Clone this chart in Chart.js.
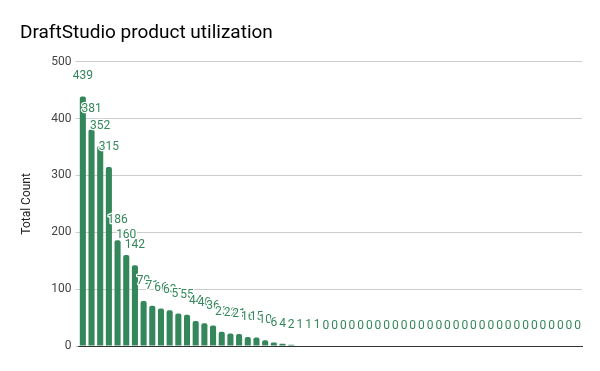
<!DOCTYPE html>
<html>
<head>
<meta charset="utf-8">
<script src="https://cdn.jsdelivr.net/npm/chart.js@4"></script>
<style>
  html, body { margin: 0; padding: 0; background: #fff; }
  #wrap { width: 600px; height: 371px; }
</style>
</head>
<body>
<div id="wrap"><canvas id="usageChart" width="600" height="371"></canvas></div>
<script>
// data
var counts = [439, 381, 352, 315, 186, 160, 142, 79, 71, 66, 63, 57, 55, 44, 40, 36,
              25, 22, 21, 16, 15, 10, 6, 4, 2, 1, 1, 1,
              0, 0, 0, 0, 0, 0, 0, 0, 0, 0, 0, 0, 0, 0, 0, 0, 0, 0, 0, 0, 0, 0,
              0, 0, 0, 0, 0, 0, 0, 0];
var categories = counts.map(function (v, i) { return 'Item ' + (i + 1); });
var yTicks = [0, 100, 200, 300, 400, 500];

var green = '#33875a';

// value labels above the bars, with a white halo
var barLabels = {
  id: 'barLabels',
  afterDatasetsDraw: function (chart) {
    var ctx = chart.ctx;
    var meta = chart.getDatasetMeta(0);
    ctx.save();
    ctx.font = '12px Roboto';
    ctx.textAlign = 'center';
    ctx.textBaseline = 'middle';
    ctx.lineJoin = 'round';
    meta.data.forEach(function (bar, i) {
      var txt = String(counts[i]);
      ctx.strokeStyle = '#fff';
      ctx.lineWidth = 2.5;
      ctx.strokeText(txt, bar.x, bar.y - 20);
      ctx.fillStyle = green;
      ctx.fillText(txt, bar.x, bar.y - 20);
    });
    ctx.restore();
  }
};

var ctx = document.getElementById('usageChart').getContext('2d');
var usageChart = new Chart(ctx, {
  type: 'bar',
  data: {
    labels: categories,
    datasets: [{
      label: 'Total Count',
      data: counts,
      backgroundColor: green,
      borderRadius: { topLeft: 2, topRight: 2 },
      borderSkipped: 'bottom',
      categoryPercentage: 1,
      barPercentage: 0.7
    }]
  },
  options: {
    responsive: false,
    animation: false,
    layout: { padding: { left: 20, right: 18, top: 0, bottom: 17 } },
    plugins: {
      legend: { display: false },
      tooltip: { enabled: false },
      title: {
        display: true,
        text: 'DraftStudio product utilization',
        align: 'start',
        color: '#000',
        font: { family: 'Roboto', size: 19, weight: 'normal' },
        padding: { top: 22, bottom: 17 }
      }
    },
    scales: {
      x: {
        grid: { display: false },
        border: { display: true, color: '#333', width: 1 },
        ticks: { display: false }
      },
      y: {
        min: 0,
        max: 500,
        afterBuildTicks: function (scale) {
          scale.ticks = yTicks.map(function (v) { return { value: v }; });
        },
        afterFit: function (scale) { scale.width = 58.5; },
        grid: { color: '#cccccc', tickLength: 3, drawTicks: true },
        border: { display: false },
        ticks: {
          color: '#444',
          padding: 4,
          font: { family: 'Roboto', size: 12 }
        },
        title: {
          display: true,
          text: 'Total Count',
          color: '#222',
          font: { family: 'Roboto', size: 12 },
          padding: 0
        }
      }
    }
  },
  plugins: [barLabels]
});
</script>
</body>
</html>
